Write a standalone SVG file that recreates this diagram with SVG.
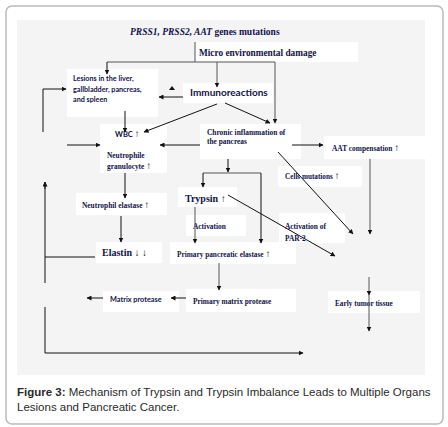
<svg xmlns="http://www.w3.org/2000/svg" width="448" height="427" viewBox="0 0 448 427">
<defs>
<marker id="ah" viewBox="0 0 10 10" refX="9" refY="5" markerWidth="5" markerHeight="5" orient="auto" markerUnits="userSpaceOnUse">
<path d="M0,0 L10,5 L0,10 z" fill="#111"/>
</marker>
</defs>
<style>
.card{fill:#fff;stroke:#bbb;stroke-width:1.5}
.bg{fill:#f4f4f4}
.bx{fill:#fff}
.s{font-family:"Liberation Serif","DejaVu Serif",serif;font-weight:bold;fill:#12124a}
.a{font-family:Lato,"Open Sans","Liberation Sans",sans-serif;font-weight:bold;fill:#12124a}
.ln{stroke:#111;stroke-width:1;fill:none}
.lg{stroke:#555;stroke-width:1;fill:none}
.cap{font-family:"Liberation Sans",Arial,sans-serif;font-size:11.5px;fill:#2a2a2a}
.up{font-weight:bold;fill:#111}
</style>
<rect class="card" x="6" y="6" width="437" height="418" rx="6"/>
<rect class="bg" x="17" y="20" width="408" height="355"/>

<g id="title"><text class="s" x="130" y="35" font-size="9.5"><tspan font-style="italic">PRSS1, PRSS2, AAT</tspan> genes mutations</text></g>
<g id="micro"><rect class="bx" x="195" y="42" width="163" height="20"/><text class="s" x="199" y="56" font-size="9.3">Micro environmental damage</text></g>
<g id="lesions"><rect class="bx" x="67" y="69" width="91" height="48"/>
<text class="a" x="73" y="81" font-size="7.2">Lesions in the liver,</text>
<text class="a" x="73" y="91.5" font-size="7.2">gallbladder, pancreas,</text>
<text class="a" x="73" y="102" font-size="7.2">and spleen</text></g>
<g id="immuno"><rect class="bx" x="183" y="83" width="90" height="20"/><text class="a" x="190" y="96" font-size="10" font-weight="normal">Immunoreactions</text></g>
<g id="wbc"><rect class="bx" x="100" y="124" width="67" height="49"/>
<text class="a" x="115" y="137" font-size="7.5">WBC <tspan class="s up" font-size="10">↑</tspan></text>
<text class="s" x="107" y="158" font-size="7.4">Neutrophile</text>
<text class="s" x="107" y="169" font-size="7.4">granulocyte <tspan class="up" font-size="10">↑</tspan></text></g>
<g id="chronic"><rect class="bx" x="200" y="124" width="101" height="35"/>
<text class="s" x="207" y="135" font-size="7.4">Chronic inflammation of</text>
<text class="s" x="207" y="144" font-size="7.4">the pancreas</text></g>
<g id="aat"><rect class="bx" x="324" y="136" width="101" height="23"/><text class="s" x="332" y="151" font-size="7.4">AAT compensation <tspan class="up" font-size="10">↑</tspan></text></g>
<g id="cells"><rect class="bx" x="278" y="166" width="84" height="21"/><text class="s" x="285" y="179" font-size="7.2">Cells mutations <tspan class="up" font-size="10">↑</tspan></text></g>
<g id="ne"><rect class="bx" x="76" y="193" width="91" height="22"/><text class="s" x="82" y="208" font-size="7.4">Neutrophil elastase <tspan class="up" font-size="10">↑</tspan></text></g>
<g id="trypsin"><rect class="bx" x="178" y="187" width="59" height="20"/><text class="s" x="185" y="202" font-size="10">Trypsin <tspan class="up" font-size="10">↑</tspan></text></g>
<g id="activation"><rect class="bx" x="186" y="215" width="60" height="21"/><text class="s" x="193" y="229" font-size="7.4">Activation</text></g>
<g id="par2"><rect class="bx" x="279" y="213" width="66" height="30"/>
<text class="s" x="285" y="229" font-size="7.4">Activation of</text>
<text class="s" x="285" y="241" font-size="7.4">PAR-2</text></g>
<g id="elastin"><rect class="bx" x="96" y="242" width="66" height="21"/><text class="s" x="102" y="256" font-size="10">Elastin <tspan class="up" font-size="10">↓ ↓</tspan></text></g>
<g id="ppe"><rect class="bx" x="170" y="242" width="126" height="22"/><text class="s" x="177" y="257" font-size="7.3">Primary pancreatic elastase <tspan class="up" font-size="10">↑</tspan></text></g>
<g id="pmp"><rect class="bx" x="186" y="289" width="110" height="23"/><text class="s" x="193" y="304" font-size="7.4">Primary matrix protease</text></g>
<g id="mp"><rect class="bx" x="103" y="291" width="76" height="21"/><text class="a" x="110" y="302" font-size="7.3">Matrix protease</text></g>
<g id="early"><rect class="bx" x="328" y="291" width="92" height="22"/><text class="s" x="335" y="306" font-size="7.3">Early tumor tissue</text></g>

<g id="connectors">
<path class="lg" d="M195,42 V62"/>
<path class="lg" d="M107,62 H275"/>
<path class="ln" d="M107,62 V74" marker-end="url(#ah)"/>
<path class="lg" d="M217,62 V87" marker-end="url(#ah)"/>
<path class="lg" d="M275,62 V123" marker-end="url(#ah)"/>
<path d="M169,90 L172,86 L175,90 z" fill="#111"/>
<path class="ln" d="M183,97 H159" marker-end="url(#ah)"/>
<path class="ln" d="M217,104 L144,132" marker-end="url(#ah)"/>
<path class="ln" d="M225,103 L270,123" marker-end="url(#ah)"/>
<path class="ln" d="M43,132 V89 H66" marker-end="url(#ah)"/>
<path class="ln" d="M125,111 V132" marker-end="url(#ah)"/>
<path class="ln" d="M67,145 H100" marker-end="url(#ah)"/>
<path class="ln" d="M200,145 H160" marker-end="url(#ah)"/>
<path class="ln" d="M292,145 H323" marker-end="url(#ah)"/>
<path class="lg" d="M370,159 V234" marker-end="url(#ah)"/>
<path class="ln" d="M278,152 L353,234" marker-end="url(#ah)"/>
<path class="ln" d="M228,159 V172" marker-end="url(#ah)"/>
<path class="lg" d="M203,173 H261"/>
<path class="ln" d="M203,173 V187" marker-end="url(#ah)"/>
<path class="ln" d="M261,173 V243" marker-end="url(#ah)"/>
<path class="ln" d="M228,195 L335,256" marker-end="url(#ah)"/>
<path class="lg" d="M195,207 V243" marker-end="url(#ah)"/>
<path class="ln" d="M125,173 V198" marker-end="url(#ah)"/>
<path class="ln" d="M121,216 V242" marker-end="url(#ah)"/>
<path class="ln" d="M45,182 V283"/>
<path class="ln" d="M45,189 V182" marker-end="url(#ah)"/>
<path class="ln" d="M45,257 H95"/>
<path class="ln" d="M45,307 V353 H303" marker-end="url(#ah)"/>
<path class="lg" d="M219,263 V290" marker-end="url(#ah)"/>
<path class="ln" d="M186,298 H171" marker-end="url(#ah)"/>
<path class="ln" d="M103,298 H87" marker-end="url(#ah)"/>
<path class="lg" d="M369,277 V295" marker-end="url(#ah)"/>
<path class="lg" d="M369,295 V331" marker-end="url(#ah)"/>
</g>

<g id="caption">
<text class="cap" x="17" y="396"><tspan font-weight="bold">Figure 3:</tspan> Mechanism of Trypsin and Trypsin Imbalance Leads to Multiple Organs</text>
<text class="cap" x="17" y="411">Lesions and Pancreatic Cancer.</text>
</g>
</svg>
